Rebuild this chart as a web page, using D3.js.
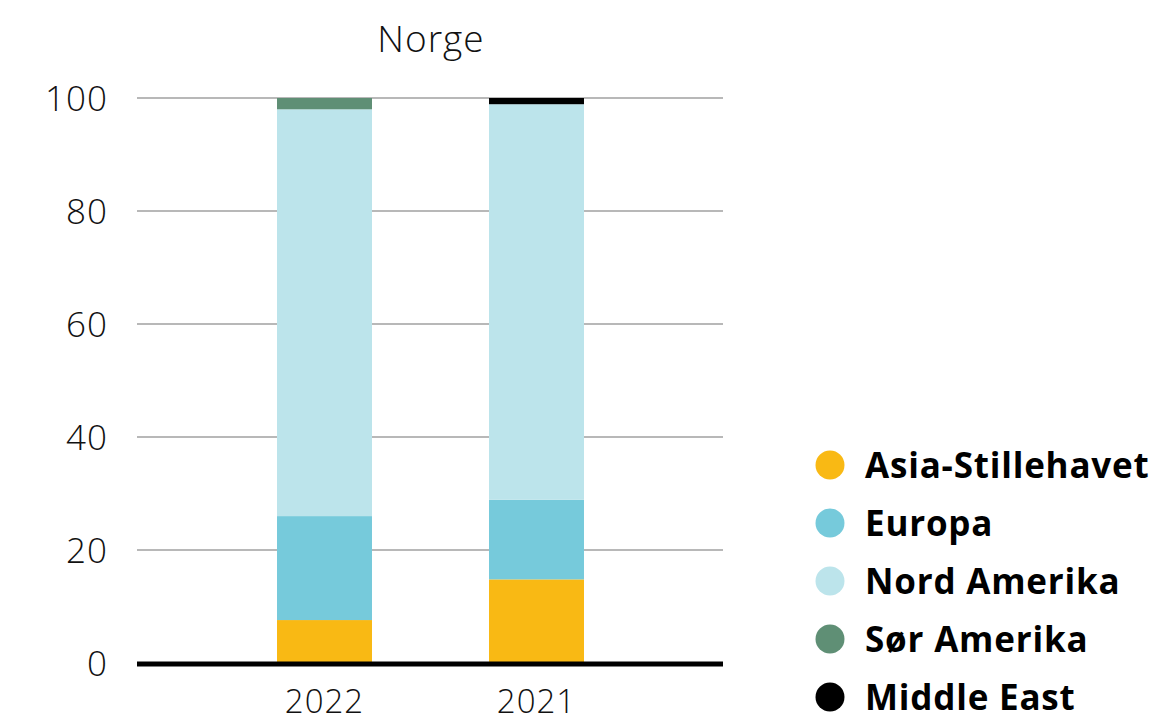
<!DOCTYPE html>
<html><head><meta charset="utf-8">
<script src="https://cdn.jsdelivr.net/npm/d3@7"></script>
<style>body{margin:0;background:#fff}svg{display:block}</style>
</head><body>
<svg id="chart" width="1158" height="723"></svg>
<script>
const years = ["2022", "2021"];
const regions = ["Asia-Stillehavet", "Europa", "Nord Amerika", "Sør Amerika", "Middle East"];
const asia = [7.6, 14.8];
const europa = [18.4, 14.1];
const nordAmerika = [72.0, 70.0];
const sorAmerika = [2.0, 0];
const middleEast = [0, 1.1];
const yTicks = [0, 20, 40, 60, 80, 100];
const colors = ["#F9B914", "#76CADB", "#BCE4EB", "#5F8F75", "#000000"];
const title = "Norge";

const seriesVals = [asia, europa, nordAmerika, sorAmerika, middleEast];
const rows = years.map((y, i) => {
  const r = {year: y};
  regions.forEach((k, j) => r[k] = seriesVals[j][i]);
  return r;
});

const svg = d3.select("#chart");
const x0 = 137, x1 = 723;
const y = d3.scaleLinear().domain([0, 100]).range([663, 98]);
const x = d3.scaleBand().domain(years).range([218.5, 642.5]).paddingInner(0.552).paddingOuter(0.276);
const font = "'Open Sans', 'Noto Sans', sans-serif";

// gridlines
svg.append("g").selectAll("line").data(yTicks.filter(t => t > 0)).join("line")
  .attr("x1", x0).attr("x2", x1)
  .attr("y1", d => y(d)).attr("y2", d => y(d))
  .attr("stroke", "#a0a0a0").attr("stroke-width", 1.5);

// y tick labels
svg.append("g").selectAll("text").data(yTicks).join("text")
  .attr("x", 108).attr("y", d => y(d)).attr("dy", "0.36em")
  .attr("text-anchor", "end")
  .style("font-family", font).style("font-weight", 300).style("font-size", "35px")
  .style("letter-spacing", "1px").attr("fill", "#111")
  .text(d => d);

// stacked bars
const stack = d3.stack().keys(regions)(rows);
svg.append("g").selectAll("g").data(stack).join("g")
  .attr("fill", (d, i) => colors[i])
  .selectAll("rect").data(d => d).join("rect")
  .attr("x", d => x(d.data.year))
  .attr("width", x.bandwidth())
  .attr("y", d => y(d[1]))
  .attr("height", d => Math.max(0, y(d[0]) - y(d[1])));

// baseline
svg.append("line").attr("x1", x0).attr("x2", x1).attr("y1", y(0) + 1).attr("y2", y(0) + 1)
  .attr("stroke", "#000").attr("stroke-width", 5);

// x labels
svg.append("g").selectAll("text").data(years).join("text")
  .attr("x", d => x(d) + x.bandwidth() / 2).attr("y", 713)
  .attr("text-anchor", "middle")
  .style("font-family", font).style("font-weight", 300).style("font-size", "33px")
  .style("letter-spacing", "1px").attr("fill", "#111")
  .text(d => d);

// title
svg.append("text").attr("x", 431).attr("y", 52).attr("text-anchor", "middle")
  .style("font-family", font).style("font-weight", 300).style("font-size", "37px")
  .style("letter-spacing", "1px").attr("fill", "#111")
  .text(title);

// legend
const lg = svg.append("g").selectAll("g").data(regions).join("g")
  .attr("transform", (d, i) => `translate(0,${465 + i * 58})`);
lg.append("circle").attr("cx", 830).attr("cy", 0).attr("r", 14.5).attr("fill", (d, i) => colors[i]);
lg.append("text").attr("x", 865).attr("y", 0).attr("dy", "0.36em")
  .style("font-family", font).style("font-weight", 700).style("font-size", "35px")
  .style("letter-spacing", "0.8px").attr("fill", "#000")
  .text(d => d);
</script>
</body></html>
